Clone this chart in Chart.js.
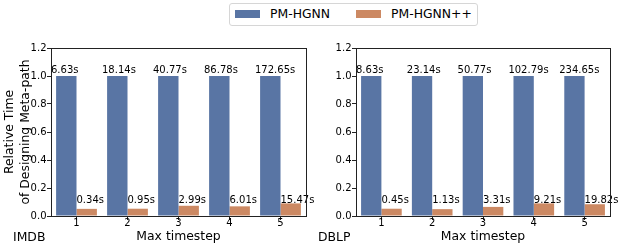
<!DOCTYPE html>
<html>
<head>
<meta charset="utf-8">
<script src="https://cdn.jsdelivr.net/npm/chart.js@4/dist/chart.umd.min.js"></script>
<style>
  html, body { margin: 0; padding: 0; background: #fff; }
  body { width: 623px; height: 248px; position: relative; overflow: hidden; font-family: "DejaVu Sans", sans-serif; }
  .wrap { position: absolute; top: 0; height: 248px; }
  #legend { position: absolute; left: 229px; top: 3px; width: 247px; height: 21px; border: 1px solid #d6d6d6; border-radius: 3px; background: #fff; }
  .patch { position: absolute; top: 6px; width: 25px; height: 7.5px; }
  .ltext { position: absolute; top: 2px; font-size: 12.4px; line-height: 16px; color: #000; white-space: nowrap; }
</style>
</head>
<body>
<div class="wrap" style="left:0;width:330px"><canvas id="c1" width="330" height="248"></canvas></div>
<div class="wrap" style="left:311px;width:312px"><canvas id="c2" width="312" height="248"></canvas></div>
<div id="legend">
  <div class="patch" style="left:5px;background:#5975a4"></div>
  <div class="ltext" id="l1" style="left:40px"></div>
  <div class="patch" style="left:126px;background:#cc8963"></div>
  <div class="ltext" id="l2" style="left:161px"></div>
</div>
<script>
// ---- data ----
const categories = ['1', '2', '3', '4', '5'];
const seriesNames = ['PM-HGNN', 'PM-HGNN++'];
const yTicks = [0.0, 0.2, 0.4, 0.6, 0.8, 1.0, 1.2];

const imdbBase = [1, 1, 1, 1, 1];
const imdbPlus = [0.051, 0.052, 0.073, 0.069, 0.090];
const imdbBaseLabels = ['6.63s', '18.14s', '40.77s', '86.78s', '172.65s'];
const imdbPlusLabels = ['0.34s', '0.95s', '2.99s', '6.01s', '15.47s'];

const dblpBase = [1, 1, 1, 1, 1];
const dblpPlus = [0.052, 0.049, 0.065, 0.090, 0.084];
const dblpBaseLabels = ['8.63s', '23.14s', '50.77s', '102.79s', '234.65s'];
const dblpPlusLabels = ['0.45s', '1.13s', '3.31s', '9.21s', '19.82s'];

const COLORS = ['#5975a4', '#cc8963'];
const FONT = '"DejaVu Sans", sans-serif';
const AXIS = '#222222';

document.getElementById('l1').textContent = seriesNames[0];
document.getElementById('l2').textContent = seriesNames[1];

const framePlugin = {
  id: 'frame',
  afterDraw(chart) {
    const a = chart.chartArea, ctx = chart.ctx;
    ctx.save();
    ctx.strokeStyle = AXIS;
    ctx.lineWidth = 1;
    ctx.strokeRect(Math.round(a.left) + 0.5, Math.round(a.top) + 0.5,
                   Math.round(a.right - a.left), Math.round(a.bottom - a.top));
    ctx.restore();
  }
};

const labelPlugin = {
  id: 'barLabels',
  afterDatasetsDraw(chart) {
    const o = chart.options.plugins.barLabels;
    const xs = chart.scales.x, ys = chart.scales.y, ctx = chart.ctx;
    const catW = xs.getPixelForValue(1) - xs.getPixelForValue(0);
    ctx.save();
    ctx.font = '10px ' + FONT;
    ctx.fillStyle = '#000';
    ctx.textAlign = 'left';
    ctx.textBaseline = 'alphabetic';
    o.base.forEach((t, i) => {
      ctx.fillText(t, xs.getPixelForValue(i) - catW / 2, ys.getPixelForValue(1.025));
    });
    o.plus.forEach((t, i) => {
      ctx.fillText(t, xs.getPixelForValue(i), ys.getPixelForValue(0.093));
    });
    // dataset name at lower left
    ctx.font = '12.4px ' + FONT;
    ctx.fillText(o.name, o.nameX, 241);
    ctx.restore();
  }
};

function makeChart(id, base, plus, baseLabels, plusLabels, name, opts) {
  return new Chart(document.getElementById(id), {
    type: 'bar',
    data: {
      labels: categories,
      datasets: [
        { label: seriesNames[0], data: base, backgroundColor: COLORS[0], borderWidth: 0,
          categoryPercentage: 0.8, barPercentage: 1.0 },
        { label: seriesNames[1], data: plus, backgroundColor: COLORS[1], borderWidth: 0,
          categoryPercentage: 0.8, barPercentage: 1.0 }
      ]
    },
    options: {
      responsive: false,
      animation: false,
      devicePixelRatio: 1,
      layout: { padding: { top: 48, right: opts.padRight, bottom: 0, left: 0 } },
      plugins: {
        legend: { display: false },
        tooltip: { enabled: false },
        barLabels: { base: baseLabels, plus: plusLabels, name: name, nameX: opts.nameX }
      },
      scales: {
        x: {
          offset: true,
          grid: { offset: false, drawOnChartArea: false, drawTicks: true, tickLength: 4, color: AXIS, lineWidth: 1 },
          border: { display: false },
          ticks: { color: '#000', font: { family: FONT, size: 10, lineHeight: 1 }, padding: -1.5, maxRotation: 0 },
          title: { display: true, text: 'Max timestep', color: '#000',
                   font: { family: FONT, size: 12.4, lineHeight: 1.2 }, padding: { top: 0, bottom: 4.2 } },
          afterFit(s) { s.height = 32; }
        },
        y: {
          min: 0, max: 1.2,
          afterBuildTicks(s) { s.ticks = yTicks.map(v => ({ value: v })); },
          grid: { drawOnChartArea: false, drawTicks: true, tickLength: 4, color: AXIS, lineWidth: 1 },
          border: { display: false },
          ticks: { color: '#000', font: { family: FONT, size: 10 }, padding: 0.5,
                   callback: v => Number(v).toFixed(1) },
          title: { display: opts.yTitle, text: ['Relative Time', 'of Designing Meta-path'], color: '#000',
                   font: { family: FONT, size: 12.4, lineHeight: 1.3 }, padding: { top: 1.5, bottom: 0 } },
          afterFit(s) { s.width = opts.yWidth; }
        }
      }
    },
    plugins: [framePlugin, labelPlugin]
  });
}

makeChart('c1', imdbBase, imdbPlus, imdbBaseLabels, imdbPlusLabels, 'IMDB',
          { padRight: 24, yWidth: 51, yTitle: true, nameX: 13 });
makeChart('c2', dblpBase, dblpPlus, dblpBaseLabels, dblpPlusLabels, 'DBLP',
          { padRight: 13, yWidth: 45, yTitle: false, nameX: 7 });
</script>
</body>
</html>
